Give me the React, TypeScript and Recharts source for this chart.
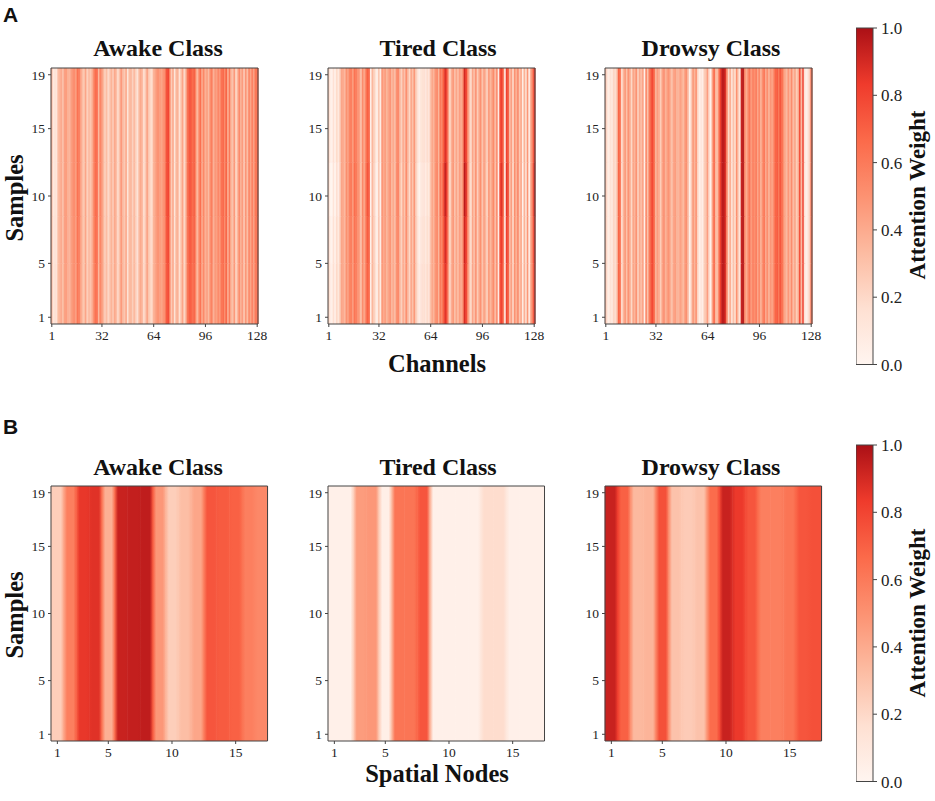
import { BarChart, Bar, Cell, XAxis, YAxis } from "recharts";

const SERIF = '"Liberation Serif", serif';
const AXIS = "#444";

const reds = ["#fff5f0", "#fee0d2", "#fcbba1", "#fc9272", "#fb6a4a", "#ef3b2c", "#ab1016"];

const channels = Array.from({ length: 128 }, (_, i) => i + 1);
const channelTicks = [1, 32, 64, 96, 128];
const nodes = Array.from({ length: 17 }, (_, i) => i + 1);
const nodeTicks = [1, 5, 10, 15];
const sampleTicks = [1, 5, 10, 15, 19];
const barTicks = [0, 0.2, 0.4, 0.6, 0.8, 1];

const awakeChannels = [
  .36, .08, .14, .10, .32, .36, .40, .30,
  .44, .46, .38, .34, .44, .48, .52, .46,
  .62, .58, .44, .32, .28, .42, .22, .34,
  .28, .38, .52, .64, .68, .34, .56, .48,
  .34, .24, .32, .18, .28, .36, .26, .42,
  .32, .18, .30, .48, .34, .26, .42, .12,
  .32, .36, .22, .34, .24, .12, .32, .40,
  .34, .16, .26, .44, .28, .20, .18, .36,
  .42, .48, .50, .46, .42, .48, .54, .74,
  .82, .58, .24, .42, .12, .34, .38, .12,
  .30, .42, .18, .36, .62, .72, .74, .64,
  .72, .56, .32, .50, .64, .40, .54, .36,
  .46, .32, .50, .60, .36, .48, .44, .54,
  .48, .62, .68, .52, .70, .38, .60, .34,
  .30, .48, .20, .34, .54, .36, .46, .26,
  .50, .30, .56, .42, .58, .44, .60, .66,
];
const tiredChannels = [
  .22, .05, .03, .15, .04, .20, .08, .25,
  .42, .40, .35, .50, .44, .55, .58, .46,
  .62, .58, .50, .45, .30, .52, .40, .58,
  .70, .68, .02, .35, .25, .14, .02, .30,
  .03, .48, .40, .45, .35, .42, .50, .34,
  .40, .32, .50, .55, .36, .22, .40, .30,
  .52, .34, .20, .42, .30, .48, .25, .15,
  .05, .12, .14, .16, .10, .18, .12, .30,
  .42, .36, .48, .55, .35, .60, .55, .70,
  .88, .80, .45, .20, .38, .48, .30, .42,
  .32, .45, .38, .52, .90, .82, .55, .30,
  .18, .42, .30, .52, .25, .40, .50, .28,
  .45, .35, .22, .48, .34, .44, .52, .30,
  .55, .04, .75, .82, .62, .04, .80, .72,
  .30, .45, .20, .50, .35, .55, .28, .42,
  .05, .38, .16, .48, .04, .40, .55, .82,
];
const drowsyChannels = [
  .30, .12, .06, .14, .10, .22, .16, .30,
  .68, .62, .15, .35, .48, .30, .50, .40,
  .20, .42, .36, .50, .22, .40, .30, .46,
  .02, .55, .30, .58, .72, .78, .66, .35,
  .45, .40, .25, .42, .52, .36, .44, .50,
  .38, .30, .42, .46, .36, .34, .44, .40,
  .32, .46, .50, .30, .02, .25, .48, .35,
  .50, .20, .04, .10, .05, .25, .30, .45,
  .18, .02, .42, .68, .35, .30, .58, .82,
  .95, .96, .88, .52, .20, .40, .12, .30,
  .18, .50, .25, .10, .92, .98, .55, .38,
  .52, .62, .45, .58, .50, .60, .42, .55,
  .36, .50, .62, .40, .52, .36, .48, .42,
  .55, .68, .72, .60, .74, .66, .50, .40,
  .34, .48, .36, .52, .30, .44, .25, .35,
  .78, .30, .80, .15, .04, .10, .22, .60,
];

// sample bands along the y axis, and how much each class shifts its contrast there
const sampleBands = [5, 3.5, 4, 7];
const awakeContrast = [0.92, 0.96, 1, 1];
const tiredContrast = [0.97, 1.03, 1.12, 1];
const drowsyContrast = [1, 1, 1, 1];

const awakeNodes = [.25, .58, .85, .87, .38, .93, .94, .95, .48, .25, .32, .42, .74, .72, .70, .58, .54];
const tiredNodes = [.04, .04, .46, .48, .05, .62, .62, .74, .04, .04, .04, .04, .18, .18, .04, .04, .04];
const drowsyNodes = [.93, .70, .34, .36, .76, .30, .26, .30, .66, .93, .84, .74, .58, .58, .62, .74, .76];

function redsColor(v: number) {
  const t = Math.min(1, Math.max(0, v)) * (reds.length - 1);
  const i = Math.min(reds.length - 2, Math.floor(t));
  const f = t - i;
  const a = parseInt(reds[i].slice(1), 16);
  const b = parseInt(reds[i + 1].slice(1), 16);
  const mix = (s: number) => Math.round(((a >> s) & 255) * (1 - f) + ((b >> s) & 255) * f);
  return `rgb(${mix(16)},${mix(8)},${mix(0)})`;
}

const tickStyle = { fontSize: 13.5, fontFamily: SERIF, fill: "#222" };
const axisLine = { stroke: AXIS, strokeWidth: 1 };

function frameAxes(xKey: string, xTicks: number[]) {
  return [
    <XAxis key="x" dataKey={xKey} type="category" ticks={xTicks} interval={0} tick={tickStyle}
      tickSize={3} tickMargin={3} height={26} axisLine={axisLine} tickLine={axisLine} />,
    <XAxis key="xt" xAxisId="top" dataKey={xKey} orientation="top" tick={false} tickLine={false}
      height={1} axisLine={axisLine} />,
    <YAxis key="y" type="number" domain={[0.5, 19.5]} ticks={sampleTicks} interval={0} allowDataOverflow
      tick={tickStyle} tickSize={3} tickMargin={3} width={50} axisLine={axisLine} tickLine={axisLine} />,
    <YAxis key="yr" yAxisId="right" orientation="right" type="number" domain={[0.5, 19.5]} tick={false}
      tickLine={false} width={1} axisLine={axisLine} />,
  ];
}

type ChannelProps = { left: number; top: number; weights: number[]; contrast: number[] };

function ChannelMap({ left, top, weights, contrast }: ChannelProps) {
  const rows = channels.map((c) => {
    const row: Record<string, number> = { channel: c };
    sampleBands.forEach((h, b) => (row[`b${b}`] = h));
    return row;
  });
  return (
    <div style={{ position: "absolute", left: left - 50, top: top - 10 }}>
      <BarChart width={50 + 207 + 21} height={10 + 256 + 26} data={rows} barCategoryGap={0} barGap={0}
        margin={{ top: 9, right: 20, left: 0, bottom: 0 }}>
        {frameAxes("channel", channelTicks)}
        {sampleBands.map((_, b) => (
          <Bar key={b} dataKey={`b${b}`} stackId="s" isAnimationActive={false}>
            {weights.map((w, i) => {
              const color = redsColor(0.4 + (w - 0.4) * contrast[b]);
              return <Cell key={i} fill={color} stroke={color} strokeWidth={0.3} />;
            })}
          </Bar>
        ))}
      </BarChart>
    </div>
  );
}

type NodeProps = { id: string; left: number; top: number; weights: number[] };

function NodeMap({ id, left, top, weights }: NodeProps) {
  const rows = nodes.map((n) => ({ node: n, span: 20 }));
  return (
    <div style={{ position: "absolute", left: left - 50, top: top - 10 }}>
      <BarChart width={50 + 216.5 + 21} height={10 + 255 + 26} data={rows} barCategoryGap={0} barGap={0}
        margin={{ top: 9, right: 20, left: 0, bottom: 0 }}>
        <defs>
          {weights.map((w, i) => {
            const prev = weights[Math.max(0, i - 1)];
            const next = weights[Math.min(weights.length - 1, i + 1)];
            return (
              <linearGradient key={i} id={`${id}-${i}`} x1="0" x2="1" y1="0" y2="0">
                <stop offset="0" stopColor={redsColor((prev + w) / 2)} />
                <stop offset="0.25" stopColor={redsColor(w)} />
                <stop offset="0.75" stopColor={redsColor(w)} />
                <stop offset="1" stopColor={redsColor((w + next) / 2)} />
              </linearGradient>
            );
          })}
        </defs>
        {frameAxes("node", nodeTicks)}
        <Bar dataKey="span" isAnimationActive={false}>
          {weights.map((_, i) => (
            <Cell key={i} fill={`url(#${id}-${i})`} stroke={`url(#${id}-${i})`} strokeWidth={0.5} />
          ))}
        </Bar>
      </BarChart>
    </div>
  );
}

function ColorBar({ id, top }: { id: string; top: number }) {
  return (
    <div style={{ position: "absolute", left: 856, top: top - 10 }}>
      <BarChart width={17 + 42} height={336.5 + 20} data={[{ name: "w", full: 1 }]} barCategoryGap={0}
        margin={{ top: 10, right: 0, left: 0, bottom: 10 }}>
        <defs>
          <linearGradient id={id} x1="0" x2="0" y1="1" y2="0">
            {reds.map((c, i) => (
              <stop key={c} offset={i / (reds.length - 1)} stopColor={c} />
            ))}
          </linearGradient>
        </defs>
        <XAxis dataKey="name" hide />
        <YAxis orientation="right" type="number" domain={[0, 1]} ticks={barTicks} interval={0} width={42}
          tickFormatter={(v: number) => v.toFixed(1)} tick={{ fontSize: 17, fontFamily: SERIF, fill: "#222" }}
          tickSize={4} tickMargin={4} axisLine={false} tickLine={axisLine} />
        <Bar dataKey="full" fill={`url(#${id})`} stroke={AXIS} strokeWidth={1} isAnimationActive={false} />
      </BarChart>
    </div>
  );
}

function Caption({ x, y, size, text, rotate }: { x: number; y: number; size: number; text: string; rotate?: boolean }) {
  return (
    <div style={{
      position: "absolute", left: x, top: y, whiteSpace: "nowrap", color: "#111",
      fontFamily: SERIF, fontWeight: 700, fontSize: size, lineHeight: 1,
      transform: `translate(-50%,-50%)${rotate ? " rotate(-90deg)" : ""}`,
    }}>
      {text}
    </div>
  );
}

function PanelLetter({ y, text }: { y: number; text: string }) {
  return (
    <div style={{
      position: "absolute", left: 3, top: y, color: "#111", lineHeight: 1,
      fontFamily: '"Liberation Sans", sans-serif', fontWeight: 700, fontSize: 21,
    }}>
      {text}
    </div>
  );
}

export default function App() {
  return (
    <div style={{ position: "absolute", left: 0, top: 0, width: 935, height: 801, background: "#fff" }}>
      <PanelLetter y={4} text="A" />
      <PanelLetter y={416} text="B" />

      <Caption x={158} y={48} size={24} text="Awake Class" />
      <Caption x={438} y={48} size={24} text="Tired Class" />
      <Caption x={711} y={48} size={24} text="Drowsy Class" />
      <Caption x={158} y={467} size={24} text="Awake Class" />
      <Caption x={438} y={467} size={24} text="Tired Class" />
      <Caption x={711} y={467} size={24} text="Drowsy Class" />

      <Caption x={15} y={198} size={24.5} text="Samples" rotate />
      <Caption x={15} y={615} size={24.5} text="Samples" rotate />
      <Caption x={437} y={364} size={24.5} text="Channels" />
      <Caption x={437} y={774} size={24.5} text="Spatial Nodes" />
      <Caption x={917} y={195} size={23} text="Attention Weight" rotate />
      <Caption x={917} y={613} size={23} text="Attention Weight" rotate />

      <ChannelMap left={51} top={68} weights={awakeChannels} contrast={awakeContrast} />
      <ChannelMap left={328} top={68} weights={tiredChannels} contrast={tiredContrast} />
      <ChannelMap left={605} top={68} weights={drowsyChannels} contrast={drowsyContrast} />

      <NodeMap id="awake" left={51} top={486} weights={awakeNodes} />
      <NodeMap id="tired" left={328} top={486} weights={tiredNodes} />
      <NodeMap id="drowsy" left={605} top={486} weights={drowsyNodes} />

      <ColorBar id="cbarTop" top={28} />
      <ColorBar id="cbarBottom" top={445} />
    </div>
  );
}
